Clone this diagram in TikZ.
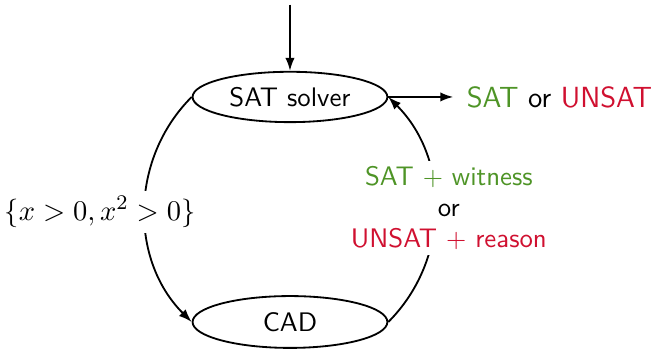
\documentclass[tikz,border=0pt]{standalone}
\usetikzlibrary{shapes.geometric, arrows.meta}
\definecolor{satgreen}{RGB}{78,148,38}
\definecolor{unsatred}{RGB}{208,16,48}
\newcommand{\satw}{\textcolor{satgreen}{SAT}}
\newcommand{\unsatw}{\textcolor{unsatred}{UNSAT}}
\begin{document}
\begin{tikzpicture}[
    state/.style={ellipse, draw=black, line width=0.7pt, minimum width=2.63cm, minimum height=0.68cm, inner sep=0pt},
    arrow/.style={-{Latex[length=5pt, width=3.6pt]}, line width=0.7pt},
    big/.style={font=\fontsize{11.2}{12}\sffamily},
    every node/.style={font=\fontsize{10.3}{12}\sffamily}
]
\useasboundingbox (0,0) rectangle (8.897,4.833);

% Solvers
\node[state] (sat) at (3.915, 3.524) {SAT solver};
\node[state, minimum height=0.70cm] (cad) at (3.915, 0.486) {CAD};

% Input and result
\coordinate (input) at (3.915, 4.77);
\node[big, anchor=west, inner sep=5pt] (result) at (6.12, 3.524) {\satw{} or \unsatw};

% Arrows
\draw[arrow] (input) -- (sat);
\draw[arrow] (sat.east) -- (result.west);
\draw[arrow] (sat.west) to[out=225, in=135] (cad.west);
\draw[arrow] (cad.east) to[out=45, in=-45] (sat.east);

% Labels
\node[big, fill=white, inner sep=2pt] (query) at (1.35, 1.971) {$\{x>0, x^2>0\}$};
\node[fill=white, align=center, inner sep=2pt] (answer) at (6.06, 2.025)
    {\textcolor{satgreen}{SAT $+$ witness}\\or\\\textcolor{unsatred}{UNSAT $+$ reason}};

\end{tikzpicture}
\end{document}
